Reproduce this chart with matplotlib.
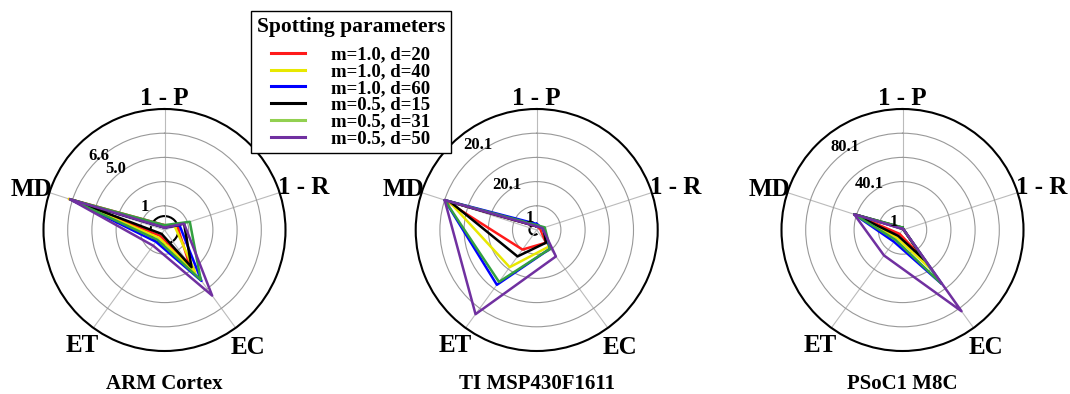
import numpy as np
import matplotlib
matplotlib.use("Agg")
from matplotlib import pyplot as plt
from matplotlib.lines import Line2D
from matplotlib.patches import Circle, Arc

plt.rcParams['font.family'] = ['Liberation Serif', 'DejaVu Serif']
plt.rcParams['font.weight'] = 'bold'

# Radar axes (clockwise from the top)
axis_labels = ['1 - P', '1 - R', 'EC', 'ET', 'MD']

# Series (spotting parameters)
series_labels = ['m=1.0, d=20', 'm=1.0, d=40', 'm=1.0, d=60',
                 'm=0.5, d=15', 'm=0.5, d=31', 'm=0.5, d=50']
line_colors = ['#ff1a1a', '#e8e800', '#0000ff', '#000000', '#33a040', '#7030a0']
legend_colors = ['#ff1a1a', '#e8e800', '#0000ff', '#000000', '#92d050', '#7030a0']

# Values, normalised to the outer ring, one row per series,
# columns in the order of axis_labels
arm_values = [
    [0.04, 0.11, 0.35, 0.06, 0.83],
    [0.03, 0.09, 0.43, 0.08, 0.83],
    [0.02, 0.13, 0.52, 0.12, 0.82],
    [0.02, 0.17, 0.38, 0.04, 0.80],
    [0.04, 0.22, 0.51, 0.10, 0.82],
    [0.02, 0.17, 0.67, 0.16, 0.82],
]
msp_values = [
    [0.03, 0.03, 0.13, 0.20, 0.80],
    [0.04, 0.05, 0.17, 0.38, 0.76],
    [0.05, 0.05, 0.19, 0.56, 0.80],
    [0.03, 0.06, 0.13, 0.27, 0.75],
    [0.04, 0.07, 0.19, 0.53, 0.80],
    [0.03, 0.05, 0.27, 0.86, 0.80],
]
psoc_values = [
    [0.01, 0.01, 0.29, 0.04, 0.42],
    [0.01, 0.01, 0.40, 0.08, 0.42],
    [0.01, 0.01, 0.55, 0.12, 0.42],
    [0.02, 0.01, 0.30, 0.06, 0.42],
    [0.02, 0.01, 0.55, 0.10, 0.42],
    [0.01, 0.01, 0.83, 0.26, 0.42],
]

chart_titles = ['ARM Cortex', 'TI MSP430F1611', 'PSoC1 M8C']
chart_values = [arm_values, msp_values, psoc_values]

# Radial labels shown on each chart (text, radius, angle in degrees)
rtick_text = [['1', '5.0', '6.6'], ['1', '20.1', '20.1'], ['1', '40.1', '80.1']]
rtick_r = [[0.26, 0.66, 0.83], [0.13, 0.46, 0.87], [0.11, 0.48, 0.85]]
rtick_ang = [[128, 128, 131], [115, 122, 124], [130, 125, 124]]

# Axis label distance from centre (fraction of outer radius)
label_r = [1.11, 1.21, 1.17, 1.15, 1.16]

fig = plt.figure(figsize=(10.7, 3.94), dpi=100)

centers_x = [164.5, 536.7, 902.5]
R = 121
angles = np.deg2rad(np.arange(5) * 72)

for k in range(3):
    cx = centers_x[k]
    ax = fig.add_axes([(cx - R) / 1070, (394 - 230 - R) / 394, 2 * R / 1070, 2 * R / 394],
                      projection='polar')
    ax.set_theta_zero_location('N')
    ax.set_theta_direction(-1)
    ax.set_ylim(0, 1)

    closed = np.append(angles, angles[0])
    for vals, col in zip(chart_values[k], line_colors):
        v = np.append(vals, vals[0])
        ax.plot(closed, v, color=col, linewidth=1.8)

    ax.set_xticks(angles)
    ax.set_xticklabels([''] * 5)
    ax.set_yticks([0.2, 0.4, 0.6, 0.8])
    ax.set_yticklabels([])
    ax.xaxis.grid(True, color='#bbbbbb', linewidth=0.8)
    ax.yaxis.grid(True, color='#999999', linewidth=0.8)
    ax.spines['polar'].set_linewidth(1.5)
    ax.spines['polar'].set_color('black')

    for name, a, r in zip(axis_labels, angles, label_r):
        ax.text(a, r, name, fontsize=18, fontweight='bold', ha='center',
                va='center_baseline', clip_on=False)

    for txt, r, a in zip(rtick_text[k], rtick_r[k], rtick_ang[k]):
        ax.text(np.deg2rad(90 - a), r, txt, fontsize=12, fontweight='bold',
                ha='center', va='center_baseline')

    ax.text(0.5, -0.157, chart_titles[k], transform=ax.transAxes, fontsize=15,
            fontweight='bold', ha='center', va='baseline')

    # small black marks left around the centre
    if k == 0:
        ax.add_patch(Circle((0.5, 0.5), 0.0575, transform=ax.transAxes,
                            fill=False, edgecolor='black', linewidth=1.5))
    if k == 1:
        ax.add_patch(Arc((0.49, 0.5), 0.04, 0.04, theta1=50, theta2=310,
                         transform=ax.transAxes, edgecolor='black', linewidth=1.5))

handles = [Line2D([0], [0], color=c, linewidth=2.2) for c in legend_colors]
leg = fig.legend(handles, series_labels, loc='upper left',
                 bbox_to_anchor=(251 / 1070, 1 - 11 / 394), borderaxespad=0,
                 title='Spotting parameters', fancybox=False, edgecolor='black',
                 framealpha=1, prop={'size': 13.5, 'weight': 'bold'},
                 title_fontproperties={'size': 15.5, 'weight': 'bold'},
                 labelspacing=-0.02, handlelength=1.8, handletextpad=1.4,
                 borderpad=0.3)
leg.get_frame().set_linewidth(1.0)
# extra gap between the legend title and its entries
leg._legend_box.sep = 7

fig.savefig('out.png', dpi=100)
